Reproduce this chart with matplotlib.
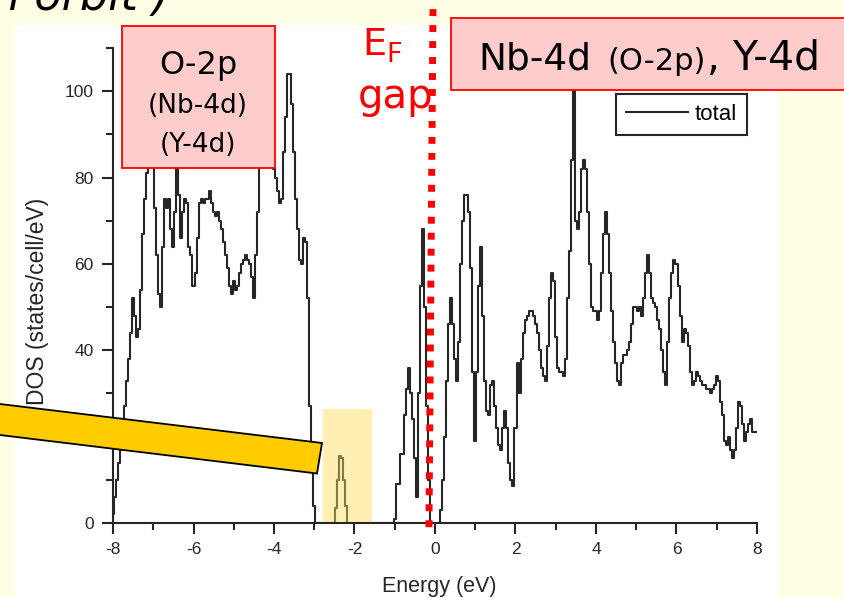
import numpy as np
import matplotlib
matplotlib.use('Agg')
from matplotlib import pyplot as plt
from matplotlib.patches import Rectangle, Polygon

W, H = 845, 598

# total DOS, one value every 0.05 eV from -8 to 8 eV (rows of 1 eV)
dos = [
    2, 6, 10, 14, 17, 22, 27, 33, 38, 44, 52, 48, 43, 45, 54, 67, 75, 81, 86, 88,          # -8
    84, 73, 62, 53, 50, 64, 75, 73, 75, 68, 64, 72, 86, 76, 66, 72, 75, 74, 64, 62,        # -7
    55, 58, 66, 74, 75, 74, 75, 75, 77, 74, 72, 71, 72, 70, 68, 65, 62, 59, 55, 53,        # -6
    56, 54, 55, 58, 60, 61, 62, 61, 60, 57, 52, 62, 72, 84, 90, 92, 93, 90, 86, 83,        # -5
    82, 80, 77, 74, 75, 86, 94, 104, 104, 97, 86, 75, 68, 61, 60, 66, 65, 52, 27, 12,      # -4
    4, 0, 0, 0, 0, 0, 0, 0, 0, 0, 0, 3.5, 10, 15.5, 15, 10, 4, 0, 0, 0,                     # -3
    0, 0, 0, 0, 0, 0, 0, 0, 0, 0, 0, 0, 0, 0, 0, 0, 0, 0, 0, 0,                             # -2
    1, 9, 9, 16, 16, 25, 31, 36, 30, 24, 15, 6, 30, 55, 68, 50, 27, 10, 0, 0,              # -1
    0, 0, 0, 3, 10, 20, 33, 46, 52, 46, 38, 33, 42, 60, 70, 76, 76, 72, 59, 35,            # 0
    19, 35, 55, 64, 48, 33, 26, 25, 32, 33, 27, 22, 18, 17, 22, 26, 22, 14, 10, 8.5,       # 1
    22, 37, 30, 38, 44, 47, 48, 49, 49, 48, 46, 44, 40, 36, 34, 33, 41, 52, 58, 56,        # 2
    43, 36, 35, 35, 34, 38, 52, 63, 84, 101, 70, 68, 72, 82, 84, 82, 72, 60, 50, 49,       # 3
    49, 47, 49, 58, 67, 72, 67, 58, 49, 42, 37, 33, 32, 37, 39, 39, 40, 42, 46, 50,        # 4
    50, 49, 50, 48, 52, 58, 62, 58, 52, 51, 50, 47, 45, 40, 35, 32, 42, 52, 58, 61,        # 5
    60, 55, 48, 42, 45, 44, 41, 35, 32, 33, 35, 34, 33, 32, 32, 31, 31, 30, 31, 32,        # 6
    34, 33, 28, 25, 19, 18, 20, 17, 15, 17, 22, 28, 27, 23, 19, 21, 23, 24, 21, 21,        # 7
    21,
]
energy = np.round(np.linspace(-8, 8, len(dos)), 2)

x_ticks = [-8, -6, -4, -2, 0, 2, 4, 6, 8]
x_minor = [-7, -5, -3, -1, 1, 3, 5, 7]
y_ticks = [0, 20, 40, 60, 80, 100]
y_minor = [10, 30, 50, 70, 90, 110]

slide_font = 'DejaVu Sans'
plot_font = 'Liberation Sans'
plt.rcParams['axes.unicode_minus'] = False


def fx(px):
    return px / W


def fy(py):
    return 1 - py / H


fig = plt.figure(figsize=(W / 100, H / 100), dpi=100)
fig.patch.set_facecolor('#FFFFE6')

# white area of the pasted figure
fig.add_artist(Rectangle((fx(15), 0), fx(778) - fx(15), fy(25), transform=fig.transFigure,
                         facecolor='white', edgecolor='none', zorder=0))

ax = fig.add_axes([fx(113), fy(523), fx(757) - fx(113), (523 - 48) / H])
ax.patch.set_alpha(0)
ax.plot(energy, dos, drawstyle='steps-mid', color='#262626', lw=1.5, label='total')
ax.set_xlim(-8, 8)
ax.set_ylim(0, 110)
for s in ['top', 'right']:
    ax.spines[s].set_visible(False)
for s in ['left', 'bottom']:
    ax.spines[s].set_linewidth(1.5)
    ax.spines[s].set_color('#262626')
ax.set_xticks(x_ticks)
ax.set_xticks(x_minor, minor=True)
ax.set_yticks(y_ticks)
ax.set_yticks(y_minor, minor=True)
ax.tick_params(which='major', direction='out', length=8, width=1.5, pad=6, color='#262626',
               labelsize=12.5, labelcolor='#262626')
ax.tick_params(which='minor', direction='out', length=5, width=1.5, color='#262626')
for lab in ax.get_xticklabels() + ax.get_yticklabels():
    lab.set_fontfamily(plot_font)
ax.set_xlabel('Energy (eV)', fontsize=15.5, family=plot_font, color='#262626')
ax.xaxis.set_label_coords(0.506, -0.112)
ax.set_ylabel('DOS (states/cell/eV)', fontsize=16.5, family=plot_font, color='#262626')
ax.yaxis.set_label_coords(-0.1, 0.466)

leg = ax.legend(loc='upper left', bbox_to_anchor=(fx(616), fy(94)), bbox_transform=fig.transFigure,
                fancybox=False, framealpha=1, edgecolor='#262626', handlelength=2.8,
                prop={'family': plot_font, 'size': 16}, borderpad=0.45, handletextpad=0.3,
                borderaxespad=0)
leg.get_frame().set_linewidth(1.5)

# Fermi level marker
ax.plot([-0.05, -0.15], [119, -1], color='#FF0000', lw=5, linestyle=(0, (1, 1.3)),
        clip_on=False, zorder=5)

# highlighted small peak
fig.add_artist(Rectangle((fx(323), fy(522)), fx(372) - fx(323), (522 - 409) / H,
                         transform=fig.transFigure, facecolor='#FFDD55', alpha=0.45,
                         edgecolor='none', zorder=4))

# yellow pointer bar
bar = [(fx(-5), fy(403.4)), (fx(322), fy(443)), (fx(317), fy(473.5)), (fx(-5), fy(434.4))]
fig.add_artist(Polygon(bar, closed=True, transform=fig.transFigure, facecolor='#FFCC00',
                       edgecolor='black', lw=1.3, zorder=6))

# label boxes
fig.add_artist(Rectangle((fx(122), fy(168)), fx(275) - fx(122), (168 - 26) / H,
                         transform=fig.transFigure, facecolor='#FFCCCC', edgecolor='#FF0000',
                         lw=1.3, zorder=6))
fig.add_artist(Rectangle((fx(451), fy(90)), fx(860) - fx(451), (90 - 18) / H,
                         transform=fig.transFigure, facecolor='#FFCCCC', edgecolor='#FF0000',
                         lw=1.3, zorder=6))

txt = dict(transform=fig.transFigure, family=slide_font, color='black', zorder=7, va='baseline')
fig.text(fx(198), fy(74), 'O-2p', fontsize=23, ha='center', **txt)
fig.text(fx(198), fy(113), '(Nb-4d)', fontsize=19, ha='center', **txt)
fig.text(fx(198), fy(152), '(Y-4d)', fontsize=19, ha='center', **txt)
fig.text(fx(478), fy(70), 'Nb-4d', fontsize=27, ha='left', **txt)
fig.text(fx(607), fy(70), '(O-2p)', fontsize=22, ha='left', **txt)
fig.text(fx(707), fy(70), ', Y-4d', fontsize=29.5, ha='left', **txt)

red = dict(transform=fig.transFigure, family=slide_font, color='#FF0000', zorder=7,
           va='baseline', ha='left')
fig.text(fx(362), fy(55), 'E', fontsize=27.5, **red)
fig.text(fx(386), fy(62), 'F', fontsize=19.5, **red)
fig.text(fx(358), fy(108), 'gap', fontsize=29, **red)

# cut-off slide title
fig.text(fx(-8), fy(10), 'n orbit )', fontsize=32, style='italic', family=slide_font,
         color='black', va='baseline', ha='left')

fig.savefig('out.png', dpi=100, facecolor=fig.get_facecolor())
